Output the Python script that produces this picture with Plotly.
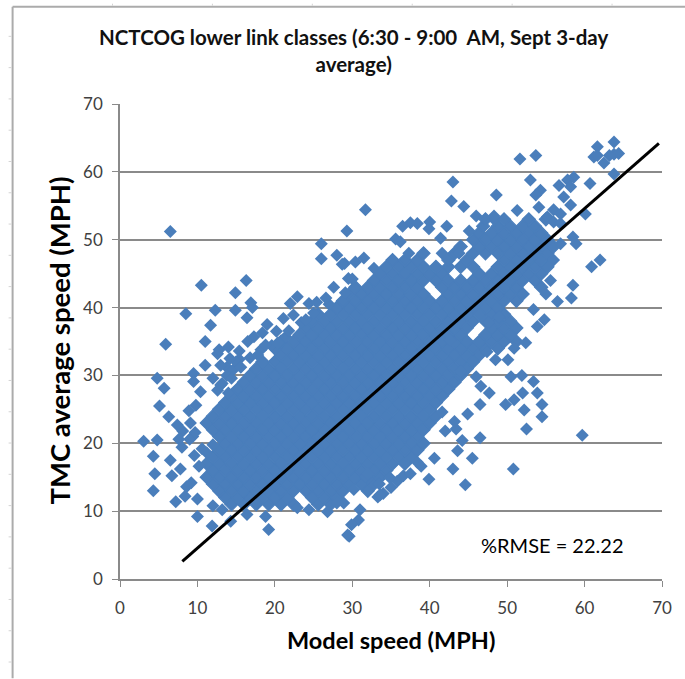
import plotly.graph_objects as go

# Values
TITLE = "NCTCOG lower link classes (6:30 - 9:00  AM, Sept 3-day<br>average)"
X_TITLE = "Model speed (MPH)"
Y_TITLE = "TMC average speed (MPH)"
RMSE_NOTE = "%RMSE = 22.22"
axis_ticks = [0, 10, 20, 30, 40, 50, 60, 70]

# Trend line ends
line_model = [8.05, 69.6]
line_tmc = [2.6, 64.2]

# Isolated points around the cloud
outlier_model = [63.8, 61.65, 63.8, 64.4, 63.2, 61.2, 62.5, 61.65, 63.8, 51.65, 53.7, 43.0, 53.0, 60.7, 54.3, 53.7, 48.6, 42.8,
    44.4, 31.7, 51.3, 60.1, 54.1, 46.0, 48.3, 37.5, 36.5, 38.4, 40.0, 39.9, 42.2, 29.3, 45.1, 35.6, 36.2, 41.4, 58.5, 58.9,
    56.9, 37.3, 41.6, 43.8, 31.5, 30.4, 29.0, 32.8, 56.0, 62.0, 60.9, 55.6, 58.5, 58.3, 56.5, 55.0, 54.8, 53.9, 53.4, 52.4,
    50.9, 50.1, 46.0, 50.5, 51.9, 53.4, 48.5, 47.4, 46.6, 47.7, 52.0, 53.9, 49.8, 50.9, 54.5, 52.2, 46.5, 44.9, 54.5, 52.5,
    43.4, 59.7, 46.5, 44.2, 43.6, 45.5, 43.0, 50.8, 39.9, 44.6, 35.8, 36.6, 34.9, 33.3, 31.7, 30.2, 31.0, 30.8, 29.9, 29.6,
    28.9, 38.4, 5.9, 3.05, 4.8, 4.3, 4.5, 4.3, 4.8, 5.7, 5.1, 6.3, 6.5, 6.7, 7.2, 8.4, 7.4, 9.1, 9.5, 9.5, 11.0, 12.6, 11.0,
    9.8, 10.4, 10.0, 11.9, 14.3, 16.4, 19.2, 18.8, 24.4, 22.9, 29.4, 6.5, 10.5, 14.9, 16.3, 8.5, 12.3, 14.9, 16.9, 17.1, 16.4,
    11.7, 18.4, 17.3, 26.0, 26.0, 28.0, 28.7, 29.5, 29.1, 27.0, 22.9, 22.0, 24.4, 21.1, 22.4, 21.4, 25.0, 58.6, 57.8, 56.7,
    58.2, 57.3, 58.2, 56.0, 55.2, 56.9, 56.0, 56.9, 8.0, 9.0, 9.6, 10.2, 7.8, 8.6, 9.2, 8.1, 9.4, 10.0, 12.0, 13.2, 13.8, 14.6,
    15.4, 12.8, 14.0, 15.0, 8.9, 9.7, 10.6, 7.6, 11.2, 12.0, 13.0, 13.8, 15.6, 16.8, 18.2, 19.6,
    12.0, 13.2, 14.4, 12.6, 14.0, 13.0, 14.2, 15.4, 16.5, 18.8, 17.8, 20.2, 19.0, 23.4, 25.4, 26.6, 24.0, 20.4, 21.8, 27.6, 30.0,
    32.0, 33.5, 35.0, 37.5, 34.0, 38.9, 40.6, 42.0, 43.2, 41.6, 42.6, 44.0, 45.6, 47.6, 49.0, 33.6, 28.0, 26.8]
outlier_tmc = [64.4, 63.7, 62.6, 62.7, 62.4, 62.2, 61.3, 62.4, 59.7, 61.9, 62.4, 58.5, 58.8, 58.3, 57.3, 56.6, 56.6, 55.7,
    54.9, 54.4, 54.3, 53.8, 54.8, 53.5, 53.5, 52.5, 52.0, 52.4, 52.6, 51.6, 52.0, 51.3, 51.3, 50.1, 49.7, 50.2, 50.4, 49.4,
    49.4, 48.0, 48.0, 48.0, 47.3, 46.7, 46.5, 45.8, 47.0, 47.0, 46.0, 44.0, 43.3, 41.4, 40.9, 42.0, 38.2, 37.2, 39.7, 34.8,
    34.0, 32.3, 29.8, 29.8, 30.0, 29.1, 32.3, 33.5, 28.4, 27.4, 27.4, 27.4, 25.7, 26.4, 25.7, 24.9, 25.7, 24.3, 23.9, 22.1,
    22.1, 21.2, 20.8, 20.4, 18.9, 17.8, 16.2, 16.2, 14.7, 13.9, 14.4, 15.2, 14.9, 12.1, 15.1, 13.2, 10.2, 8.7, 8.0, 6.3,
    11.2, 17.2, 34.6, 20.3, 20.5, 18.1, 15.5, 13.0, 29.6, 28.1, 25.5, 23.9, 17.5, 15.2, 11.4, 12.2, 22.7, 23.0, 30.3, 29.1,
    31.5, 33.2, 35.0, 25.6, 27.6, 9.2, 7.8, 8.5, 9.5, 7.3, 9.2, 10.2, 10.5, 6.5, 51.2, 43.3, 42.2, 44.0, 39.1, 39.6, 39.6,
    40.7, 40.0, 38.5, 37.4, 36.3, 35.7, 49.4, 47.2, 47.7, 46.4, 44.3, 42.2, 40.5, 41.6, 40.6, 40.6, 38.4, 38.9, 35.7, 39.2,
    59.2, 58.8, 58.0, 57.8, 56.3, 55.1, 54.4, 53.4, 53.8, 52.6, 52.4, 19.4, 20.6, 18.2, 16.6, 16.2, 13.6, 14.2, 21.8, 21.0,
    11.8, 10.8, 10.2, 31.2, 30.8, 32.4, 33.8, 34.2, 32.0, 24.8, 21.6, 19.2, 20.6, 18.6, 19.8, 28.6, 30.0, 31.2, 32.6, 33.8, 34.4,
    29.6, 28.8, 29.6, 27.8, 27.4, 31.5, 32.5, 33.6, 35.0, 34.5, 33.0, 36.5, 37.5, 37.8, 40.8, 41.4, 38.2, 34.8, 36.6, 43.0, 44.2,
    15.5, 14.0, 13.5, 15.5, 12.6, 16.6, 17.8, 21.8, 23.2, 24.6, 35.2, 30.6, 32.0, 37.8, 38.6, 12.4, 11.2, 9.9]

# Cloud interior, row by row
core_tmc = [11, 12, 13, 14, 15, 16, 17, 18, 19, 20, 21, 22, 23, 24, 25, 26, 27, 28, 29, 30, 31, 32, 33, 34, 35, 36, 37, 38,
    39, 40, 41, 42, 43, 44, 45, 46, 47, 48, 49, 50, 51, 52, 53]
core_model = [
    [14.4, 16, 17.6, 19.2, 20.8, 22.4, 25.6, 27.2],
    [13.6, 15.2, 16.8, 18.4, 20, 21.6, 24.8, 26.4, 28],
    [12.8, 14.4, 16, 17.6, 19.2, 20.8, 22.4, 24, 25.6, 27.2, 28.8, 32],
    [12, 13.6, 15.2, 16.8, 18.4, 20, 21.6, 23.2, 24.8, 26.4, 28, 29.6, 31.2, 32.8],
    [11.2, 12.8, 14.4, 16, 17.6, 19.2, 20.8, 22.4, 24, 25.6, 27.2, 28.8, 30.4, 32, 33.6],
    [12, 13.6, 15.2, 16.8, 18.4, 20, 21.6, 23.2, 24.8, 26.4, 28, 29.6, 31.2, 32.8, 34.4],
    [11.2, 12.8, 14.4, 16, 17.6, 19.2, 20.8, 22.4, 24, 25.6, 27.2, 28.8, 30.4, 32, 33.6, 35.2, 36.8],
    [12, 13.6, 15.2, 16.8, 18.4, 20, 21.6, 23.2, 24.8, 26.4, 28, 29.6, 31.2, 32.8, 34.4, 36, 37.6],
    [12.8, 14.4, 16, 17.6, 19.2, 20.8, 22.4, 24, 25.6, 27.2, 28.8, 30.4, 32, 33.6, 35.2, 36.8, 38.4],
    [13.6, 15.2, 16.8, 18.4, 20, 21.6, 23.2, 24.8, 26.4, 28, 29.6, 31.2, 32.8, 34.4, 36, 37.6, 39.2],
    [12.8, 14.4, 16, 17.6, 19.2, 20.8, 22.4, 24, 25.6, 27.2, 28.8, 30.4, 32, 33.6, 35.2, 36.8, 38.4],
    [12, 13.6, 15.2, 16.8, 18.4, 20, 21.6, 23.2, 24.8, 26.4, 28, 29.6, 31.2, 32.8, 34.4, 36, 37.6, 39.2],
    [11.2, 12.8, 14.4, 16, 17.6, 19.2, 20.8, 22.4, 24, 25.6, 27.2, 28.8, 30.4, 32, 33.6, 35.2, 36.8, 38.4, 40],
    [12, 13.6, 15.2, 16.8, 18.4, 20, 21.6, 23.2, 24.8, 26.4, 28, 29.6, 31.2, 32.8, 34.4, 36, 37.6, 39.2, 40.8],
    [12.8, 14.4, 16, 17.6, 19.2, 20.8, 22.4, 24, 25.6, 27.2, 28.8, 30.4, 32, 33.6, 35.2, 36.8, 38.4, 40],
    [13.6, 15.2, 16.8, 18.4, 20, 21.6, 23.2, 24.8, 26.4, 28, 29.6, 31.2, 32.8, 34.4, 36, 37.6, 39.2, 40.8],
    [14.4, 16, 17.6, 19.2, 20.8, 22.4, 24, 25.6, 27.2, 28.8, 30.4, 32, 33.6, 35.2, 36.8, 38.4, 40, 41.6],
    [15.2, 16.8, 18.4, 20, 21.6, 23.2, 24.8, 26.4, 28, 29.6, 31.2, 32.8, 34.4, 36, 37.6, 39.2, 40.8, 42.4],
    [16, 17.6, 19.2, 20.8, 22.4, 24, 25.6, 27.2, 28.8, 30.4, 32, 33.6, 35.2, 36.8, 38.4, 40, 41.6, 43.2],
    [16.8, 18.4, 20, 21.6, 23.2, 24.8, 26.4, 28, 29.6, 31.2, 32.8, 34.4, 36, 37.6, 39.2, 40.8, 42.4, 44],
    [17.6, 19.2, 20.8, 22.4, 24, 25.6, 27.2, 28.8, 30.4, 32, 33.6, 35.2, 36.8, 38.4, 40, 41.6, 43.2, 44.8],
    [18.4, 20, 21.6, 23.2, 24.8, 26.4, 28, 29.6, 31.2, 32.8, 34.4, 36, 37.6, 39.2, 40.8, 42.4, 44, 45.6],
    [20.8, 22.4, 24, 25.6, 27.2, 28.8, 30.4, 32, 33.6, 35.2, 36.8, 38.4, 40, 41.6, 43.2, 44.8, 46.4],
    [20, 21.6, 23.2, 24.8, 26.4, 28, 29.6, 31.2, 32.8, 34.4, 36, 37.6, 39.2, 40.8, 42.4, 44, 45.6, 47.2, 48.8],
    [20.8, 22.4, 24, 25.6, 27.2, 28.8, 30.4, 32, 33.6, 35.2, 36.8, 38.4, 40, 41.6, 43.2, 44.8, 46.4, 48, 49.6, 51.2],
    [23.2, 24.8, 26.4, 28, 29.6, 31.2, 32.8, 34.4, 36, 37.6, 39.2, 40.8, 42.4, 44, 47.2, 48.8, 50.4],
    [24, 25.6, 27.2, 28.8, 30.4, 32, 33.6, 35.2, 36.8, 38.4, 40, 41.6, 43.2, 44.8, 48, 49.6, 51.2],
    [24.8, 26.4, 28, 29.6, 31.2, 32.8, 34.4, 36, 37.6, 39.2, 40.8, 42.4, 44, 45.6, 47.2, 48.8, 50.4],
    [25.6, 27.2, 28.8, 30.4, 32, 33.6, 35.2, 36.8, 38.4, 40, 41.6, 43.2, 44.8, 46.4, 48, 49.6],
    [28, 29.6, 31.2, 32.8, 34.4, 36, 37.6, 39.2, 40.8, 42.4, 44, 45.6, 47.2, 48.8],
    [28.8, 30.4, 32, 33.6, 35.2, 36.8, 38.4, 40, 41.6, 43.2, 44.8, 46.4, 48, 49.6, 51.2],
    [29.6, 31.2, 32.8, 34.4, 36, 37.6, 39.2, 42.4, 44, 45.6, 47.2, 48.8, 50.4, 52],
    [30.4, 32, 33.6, 35.2, 36.8, 38.4, 41.6, 43.2, 44.8, 46.4, 48, 49.6, 51.2, 54.4],
    [32.8, 34.4, 36, 37.6, 39.2, 40.8, 42.4, 44, 45.6, 47.2, 48.8, 50.4, 52, 53.6],
    [33.6, 35.2, 36.8, 38.4, 40, 41.6, 46.4, 48, 49.6, 51.2, 52.8, 54.4],
    [34.4, 36, 37.6, 39.2, 40.8, 42.4, 44, 45.6, 48.8, 50.4, 52, 53.6, 55.2],
    [35.2, 36.8, 38.4, 42.4, 44.8, 49.6, 51.2, 52.8, 54.4],
    [39.2, 43.2, 45.6, 47.2, 48.8, 50.4, 52, 53.6, 55.2],
    [44, 46.4, 48, 49.6, 51.2, 52.8, 54.4, 56],
    [45.6, 47.2, 48.8, 50.4, 52, 53.6, 55.2],
    [46.4, 48, 49.6, 51.2, 52.8, 54.4],
    [46.9, 48.8, 50.4, 52, 53.6],
    [47.2, 48.4, 49.6, 52.8, 55],
]

W, H = 685, 679
L, R, T, B = 119.5, 662.0, 103.5, 579.5
BLUE = "#4A7EBB"
GRID = "#8A8A8A"
FONT = "Lato"

core_x = [v for row in core_model for v in row]
core_y = [t for t, row in zip(core_tmc, core_model) for _ in row]


def px(x):
    return (x - L) / (R - L)


def py(y):
    return (B - y) / (B - T)


fig = go.Figure()
fig.add_trace(go.Scatter(x=core_x, y=core_y, mode="markers", cliponaxis=False,
                         marker=dict(symbol="diamond", size=10, color=BLUE, line=dict(width=1.2, color=BLUE)),
                         showlegend=False, hoverinfo="skip"))
fig.add_trace(go.Scatter(x=outlier_model, y=outlier_tmc, mode="markers", cliponaxis=False,
                         marker=dict(symbol="diamond", size=10, color=BLUE, line=dict(width=0)),
                         showlegend=False, hoverinfo="skip"))
fig.add_trace(go.Scatter(x=line_model, y=line_tmc, mode="lines", line=dict(color="black", width=3),
                         showlegend=False, hoverinfo="skip"))

frame = [dict(type="line", xref="paper", yref="paper", x0=px(12), x1=px(12), y0=py(6), y1=py(H),
              line=dict(color="#ABABAB", width=2)),
         dict(type="line", xref="paper", yref="paper", x0=px(12), x1=px(W), y0=py(6), y1=py(6),
              line=dict(color="#ABABAB", width=2))]
for i in range(1, 7):
    frame.append(dict(type="line", xref="paper", yref="paper", x0=px(12 + 100 * i), x1=px(12 + 100 * i),
                      y0=py(3), y1=py(5), line=dict(color="#D4D4D4", width=1)))
for i in range(0, 21):
    yy = 662.7 - 31.35 * i
    if yy > 8:
        frame.append(dict(type="line", xref="paper", yref="paper", x0=px(8), x1=px(11), y0=py(yy), y1=py(yy),
                          line=dict(color="#D4D4D4", width=1)))

axis_style = dict(range=[0, 70], tickvals=axis_ticks, ticks="outside", ticklen=6, tickwidth=1, tickcolor=GRID,
                  showline=True, linecolor=GRID, linewidth=1.5,
                  tickfont=dict(family=FONT, size=17, color="#404040"), zeroline=False)

fig.update_layout(
    width=W, height=H, autosize=False,
    margin=dict(l=L, r=W - R, t=T, b=H - B, pad=0),
    paper_bgcolor="white", plot_bgcolor="white",
    shapes=frame,
    xaxis=dict(showgrid=False, ticklabelstandoff=7, **axis_style),
    yaxis=dict(showgrid=True, gridcolor=GRID, gridwidth=1.5, ticklabelstandoff=6, **axis_style),
    annotations=[
        dict(text=f"<b>{TITLE}</b>", xref="paper", yref="paper", x=px(353), y=py(50), xanchor="center", yanchor="middle",
             showarrow=False, align="center", font=dict(family=FONT, size=20.5, color="#111111")),
        dict(text=f"<b>{X_TITLE}</b>", xref="paper", yref="paper", x=px(391), y=py(641), xanchor="center", yanchor="middle",
             showarrow=False, font=dict(family=FONT, size=23.5, color="black")),
        dict(text=f"<b>{Y_TITLE}</b>", xref="paper", yref="paper", x=px(58), y=py(341), xanchor="center", yanchor="middle",
             showarrow=False, textangle=-90, font=dict(family=FONT, size=27.5, color="black")),
        dict(text=RMSE_NOTE, xref="paper", yref="paper", x=px(552), y=py(545), xanchor="center", yanchor="middle",
             showarrow=False, font=dict(family=FONT, size=20, color="black")),
    ],
)

fig.write_html("out.html", config={"displayModeBar": False}, post_script="document.body.style.margin='0';")
